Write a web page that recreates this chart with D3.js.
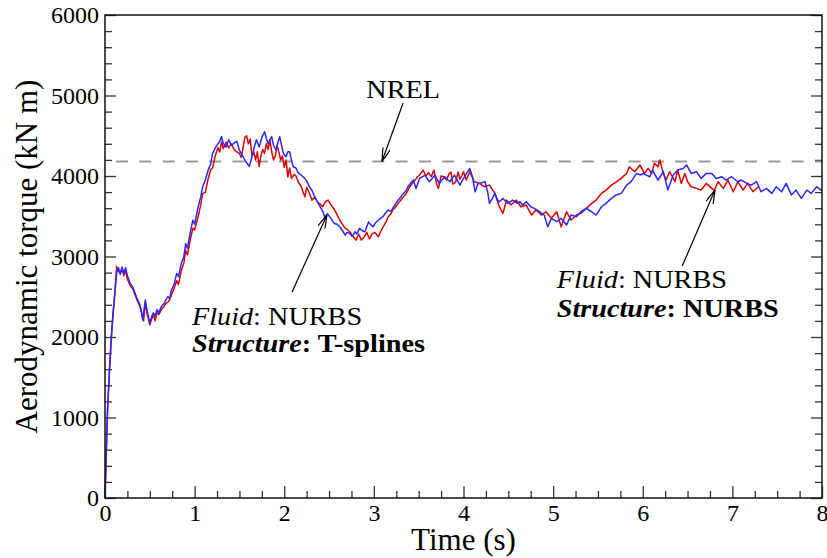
<!DOCTYPE html>
<html>
<head>
  <meta charset="utf-8">
  <title>Aerodynamic torque time history</title>
  <script src="https://cdn.jsdelivr.net/npm/d3@7"></script>
  <style>
    body { margin: 0; background: #fff; }
  </style>
</head>
<body>
<script>

// time (s) / torque (kN m)
var tsplineTime = [0,0.01,0.02,0.03,0.05,0.07,0.09,0.11,0.13,0.15,0.17,0.19,0.21,0.23,0.25,0.28,0.31,0.35,0.37,0.39,0.41,0.42,0.45,0.47,0.5,0.52,0.54,0.56,0.58,0.6,0.63,0.66,0.68,0.7,0.72,0.74,0.77,0.8,0.82,0.85,0.88,0.9,0.92,0.95,0.98,1,1.04,1.07,1.09,1.12,1.15,1.18,1.2,1.23,1.26,1.28,1.3,1.32,1.35,1.38,1.41,1.44,1.47,1.5,1.52,1.54,1.57,1.61,1.63,1.65,1.67,1.69,1.72,1.75,1.78,1.8,1.82,1.84,1.86,1.88,1.91,1.93,1.95,1.97,1.99,2.02,2.04,2.06,2.08,2.1,2.13,2.15,2.17,2.2,2.23,2.25,2.28,2.31,2.34,2.37,2.4,2.43,2.45,2.48,2.51,2.54,2.56,2.59,2.62,2.65,2.68,2.7,2.73,2.76,2.79,2.81,2.84,2.87,2.9,2.94,2.96,2.99,3.02,3.05,3.08,3.1,3.13,3.16,3.19,3.21,3.24,3.27,3.3,3.33,3.36,3.38,3.41,3.44,3.47,3.51,3.54,3.57,3.6,3.62,3.65,3.68,3.71,3.73,3.76,3.79,3.82,3.85,3.87,3.9,3.93,3.96,3.98,4.01,4.07,4.1,4.13,4.16,4.18,4.24,4.27,4.29,4.32,4.35,4.38,4.4,4.44,4.49,4.55,4.6,4.63,4.66,4.7,4.75,4.79,4.85,4.9,4.94,4.98,5.04,5.09,5.15,5.2,5.26,5.31,5.37,5.43,5.48,5.54,5.59,5.65,5.7,5.76,5.82,5.87,5.93,5.98,6,6.08,6.11,6.17,6.23,6.28,6.34,6.39,6.45,6.49,6.54,6.6,6.65,6.71,6.77,6.82,6.88,6.93,6.99,7.06,7.1,7.16,7.21,7.27,7.32,7.38,7.44,7.49,7.55,7.6,7.66,7.71,7.77,7.83,7.88,7.94,7.99,8];
var tsplineTorque = [0,400,800,1150,1600,2000,2300,2550,2800,2860,2780,2870,2790,2860,2760,2670,2620,2500,2450,2400,2300,2211,2460,2320,2170,2250,2300,2260,2340,2300,2380,2420,2460,2500,2480,2580,2650,2790,2750,2910,3000,3160,3100,3290,3450,3400,3620,3750,3870,3950,4070,4150,4280,4350,4400,4430,4490,4400,4360,4450,4380,4410,4430,4320,4280,4240,4180,4120,4200,4280,4380,4450,4360,4480,4550,4470,4400,4450,4490,4380,4320,4420,4490,4380,4280,4240,4300,4300,4200,4115,4100,4050,4030,4000,3970,3940,3870,3820,3740,3680,3620,3560,3490,3530,3490,3440,3410,3400,3370,3320,3266,3300,3287,3250,3308,3280,3350,3320,3308,3430,3400,3370,3420,3450,3480,3494,3540,3577,3560,3598,3650,3700,3740,3784,3820,3866,3910,3949,3845,3970,3990,4011,3960,3928,3970,4011,3950,3908,3950,3990,3960,3928,3970,4011,3950,3887,3930,3990,4094,3990,3804,3900,3908,3929,3800,3660,3720,3784,3700,3680,3722,3660,3701,3660,3680,3639,3680,3618,3598,3556,3515,3370,3474,3432,3474,3391,3515,3494,3556,3598,3556,3515,3618,3660,3722,3763,3784,3887,3929,4032,4012,4032,3991,4074,3950,4053,3825,4012,4074,4094,4136,4032,4053,3970,4032,4032,3970,3991,3950,3991,3929,3950,3908,3887,3929,3805,3846,3784,3867,3805,3908,3763,3825,3722,3825,3784,3867,3825,3835];

var nurbsTime = [0,0.01,0.02,0.03,0.05,0.07,0.09,0.11,0.13,0.15,0.17,0.19,0.21,0.23,0.25,0.28,0.31,0.35,0.37,0.39,0.41,0.43,0.45,0.47,0.5,0.52,0.54,0.56,0.58,0.6,0.63,0.66,0.68,0.7,0.72,0.74,0.77,0.8,0.82,0.85,0.88,0.9,0.92,0.95,0.98,1,1.04,1.07,1.09,1.12,1.15,1.18,1.2,1.23,1.26,1.28,1.3,1.32,1.35,1.38,1.41,1.44,1.47,1.5,1.52,1.54,1.56,1.58,1.6,1.62,1.64,1.66,1.68,1.7,1.72,1.74,1.76,1.78,1.8,1.82,1.84,1.86,1.88,1.9,1.92,1.94,1.96,1.98,2,2.02,2.04,2.06,2.08,2.11,2.13,2.16,2.19,2.21,2.23,2.25,2.28,2.31,2.34,2.37,2.4,2.43,2.46,2.49,2.52,2.55,2.58,2.62,2.65,2.68,2.71,2.73,2.76,2.8,2.83,2.86,2.89,2.92,2.95,2.98,3.01,3.05,3.08,3.11,3.14,3.16,3.19,3.21,3.24,3.27,3.3,3.33,3.36,3.4,3.43,3.46,3.49,3.51,3.55,3.58,3.61,3.64,3.67,3.7,3.72,3.75,3.78,3.81,3.84,3.86,3.88,3.91,3.94,3.96,3.98,4,4.03,4.07,4.12,4.18,4.23,4.29,4.35,4.4,4.44,4.48,4.53,4.59,4.64,4.7,4.76,4.81,4.87,4.92,4.98,5.04,5.09,5.15,5.2,5.26,5.31,5.37,5.43,5.48,5.54,5.59,5.65,5.71,5.76,5.82,5.85,5.91,5.97,6.02,6.06,6.1,6.13,6.17,6.19,6.23,6.26,6.3,6.36,6.39,6.43,6.47,6.5,6.54,6.6,6.65,6.71,6.77,6.8,6.84,6.9,6.95,7.01,7.06,7.12,7.17,7.23,7.29];
var nurbsTorque = [0,380,780,1120,1580,1980,2280,2540,2880,2820,2790,2850,2760,2830,2720,2640,2600,2480,2430,2380,2280,2200,2420,2290,2150,2220,2280,2200,2300,2280,2340,2380,2420,2430,2460,2520,2600,2700,2650,2820,2920,3080,3020,3200,3350,3330,3500,3650,3780,3800,3960,4080,4100,4250,4350,4300,4420,4340,4420,4350,4400,4330,4300,4280,4230,4350,4480,4500,4400,4460,4250,4300,4200,4300,4120,4250,4330,4280,4400,4330,4450,4300,4200,4250,4380,4300,4200,4250,4110,4200,3990,4100,3970,4020,4000,3920,3866,3800,3740,3860,3790,3700,3740,3680,3650,3620,3680,3700,3640,3600,3540,3450,3400,3350,3330,3308,3260,3204,3280,3204,3240,3300,3220,3280,3300,3245,3320,3380,3440,3494,3530,3577,3610,3660,3700,3740,3780,3866,3910,3950,3990,4011,4074,4000,4040,3990,4074,3900,3846,4000,3990,3950,4030,4050,3900,3920,4050,3960,4000,4053,3950,4053,3929,3908,3867,3887,3784,3618,3536,3701,3639,3701,3618,3639,3515,3577,3515,3556,3474,3556,3370,3556,3453,3515,3536,3598,3660,3701,3784,3825,3887,3929,3970,4032,4115,4053,4136,4032,4094,4032,4157,4115,4198,4032,3950,4053,3929,4074,3908,4032,3929,3867,3846,3825,3908,3846,3825,3929,3846,3950,3805,3929,3825,3908,3805,3867];

var nrelTorque = 4180;

var xMajor = [0,1,2,3,4,5,6,7,8];
var yMajor = [0,1000,2000,3000,4000,5000,6000];

var serif = '"Liberation Serif", "Times New Roman", serif';

var svgWidth = 827, svgHeight = 558;
var margin = {left: 105, top: 15, right: 5, bottom: 60};
var w = svgWidth - margin.left - margin.right;
var h = svgHeight - margin.top - margin.bottom;

var svg = d3.select('body').append('svg')
    .attr('width', svgWidth)
    .attr('height', svgHeight)
    .attr('font-family', serif);

var g = svg.append('g')
    .attr('transform', 'translate(' + margin.left + ',' + margin.top + ')');

var x = d3.scaleLinear().domain([0, 8]).range([0, w]);
var y = d3.scaleLinear().domain([0, 6000]).range([h, 0]);

var xMinor = d3.range(0, 8.001, 0.25).filter(function(v) { return v % 1 !== 0; });
var yMinor = d3.range(0, 6001, 200).filter(function(v) { return v % 1000 !== 0; });

// ticks point inward, no ticks on top
function axisGroup(axis, tr) {
  var a = g.append('g').attr('transform', tr).call(axis);
  a.attr('font-family', serif).attr('font-size', 24);
  a.select('.domain').remove();
  a.selectAll('line').attr('stroke', '#333').attr('stroke-width', 1.3);
  a.selectAll('text').attr('fill', '#000');
  return a;
}

axisGroup(d3.axisBottom(x).tickValues(xMajor).tickSize(-12).tickPadding(6).tickFormat(d3.format('d')), 'translate(0,' + h + ')');
axisGroup(d3.axisBottom(x).tickValues(xMinor).tickSize(-7).tickFormat(''), 'translate(0,' + h + ')');
axisGroup(d3.axisLeft(y).tickValues(yMajor).tickSize(-11).tickPadding(6).tickFormat(d3.format('d')), null);
axisGroup(d3.axisLeft(y).tickValues(yMinor).tickSize(-7).tickFormat(''), null);
axisGroup(d3.axisRight(y).tickValues(yMajor).tickSize(-11).tickFormat(''), 'translate(' + w + ',0)');
axisGroup(d3.axisRight(y).tickValues(yMinor).tickSize(-7).tickFormat(''), 'translate(' + w + ',0)');

// NREL reference
g.append('line')
    .attr('x1', 0).attr('x2', w)
    .attr('y1', y(nrelTorque)).attr('y2', y(nrelTorque))
    .attr('stroke', '#999').attr('stroke-width', 2)
    .attr('stroke-dasharray', '12,11.3')
    .attr('stroke-dashoffset', 12.3);

var line = d3.line()
    .x(function(d) { return x(d[0]); })
    .y(function(d) { return y(d[1]); });

var red = nurbsTime.map(function(t, i) { return [t, nurbsTorque[i]]; });
var blue = tsplineTime.map(function(t, i) { return [t, tsplineTorque[i]]; });

g.append('path').datum(red)
    .attr('d', line).attr('fill', 'none')
    .attr('stroke', '#dd0000').attr('stroke-width', 1.5).attr('stroke-linejoin', 'round');

g.append('path').datum(blue)
    .attr('d', line).attr('fill', 'none')
    .attr('stroke', '#2828ff').attr('stroke-width', 1.5).attr('stroke-linejoin', 'round');

// frame
g.append('rect')
    .attr('width', w).attr('height', h)
    .attr('fill', 'none').attr('stroke', '#111').attr('stroke-width', 1.5);

// arrows
svg.append('defs').append('marker')
    .attr('id', 'head')
    .attr('viewBox', '0 0 14 8')
    .attr('refX', 14).attr('refY', 4)
    .attr('markerWidth', 14).attr('markerHeight', 8)
    .attr('markerUnits', 'userSpaceOnUse')
    .attr('orient', 'auto')
  .append('path')
    .attr('d', 'M0,0L14,4L0,8')
    .attr('fill', 'none').attr('stroke', '#000').attr('stroke-width', 1.2);

var arrows = [
  {from: [3.326, 4906], to: [3.09, nrelTorque]},
  {from: [2.087, 2559], to: [2.477, 3515]},
  {from: [6.44, 2881], to: [6.806, 3825]}
];

g.selectAll('.arrow').data(arrows).enter().append('line')
    .attr('class', 'arrow')
    .attr('x1', function(d) { return x(d.from[0]); })
    .attr('y1', function(d) { return y(d.from[1]); })
    .attr('x2', function(d) { return x(d.to[0]); })
    .attr('y2', function(d) { return y(d.to[1]); })
    .attr('stroke', '#000').attr('stroke-width', 1.2)
    .attr('marker-end', 'url(#head)');

// the original lettering is a little wider than Liberation Serif
var stretch = 1.13;

g.append('text')
    .attr('transform', 'translate(' + x(3.326) + ',' + y(4968) + ') scale(' + stretch + ',1)')
    .attr('text-anchor', 'middle')
    .attr('font-size', 25)
    .text('NREL');

function label(t, v1, v2, structText) {
  var l1 = g.append('text')
      .attr('transform', 'translate(' + x(t) + ',' + y(v1) + ') scale(' + stretch + ',1)')
      .attr('font-size', 25);
  l1.append('tspan').attr('font-style', 'italic').text('Fluid');
  l1.append('tspan').text(': NURBS');
  var l2 = g.append('text')
      .attr('transform', 'translate(' + x(t) + ',' + y(v2) + ') scale(' + stretch + ',1)')
      .attr('font-size', 25).attr('font-weight', 'bold');
  l2.append('tspan').attr('font-style', 'italic').text('Structure');
  l2.append('tspan').text(': ' + structText);
}
label(0.97, 2149, 1813, 'T-splines');
label(5.04, 2608, 2248, 'NURBS');

// axis titles
svg.append('text')
    .attr('x', margin.left + x(4)).attr('y', 550)
    .attr('text-anchor', 'middle')
    .attr('font-size', 31)
    .text('Time (s)');

svg.append('text')
    .attr('transform', 'translate(37,' + (margin.top + h / 2) + ') rotate(-90)')
    .attr('text-anchor', 'middle')
    .attr('font-size', 31)
    .text('Aerodynamic torque (kN m)');

</script>
</body>
</html>
